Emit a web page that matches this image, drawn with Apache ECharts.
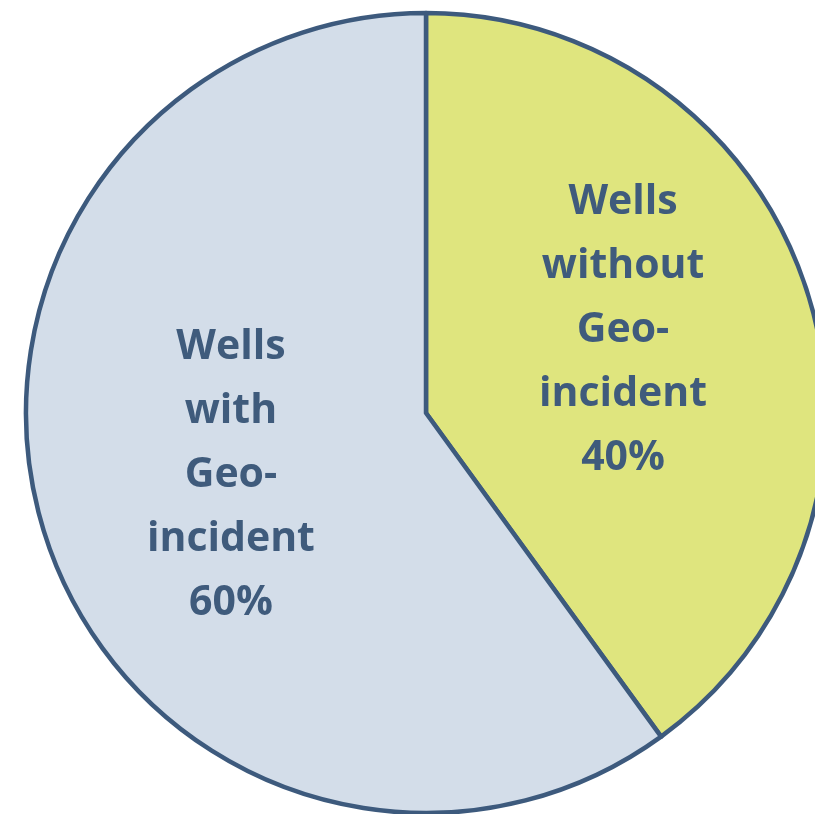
<!DOCTYPE html>
<html>
<head>
<meta charset="utf-8">
<script src="https://cdn.jsdelivr.net/npm/echarts@6/dist/echarts.min.js"></script>
<style>
  html, body { margin: 0; padding: 0; background: #ffffff; }
  #chart { width: 815px; height: 814px; }
</style>
</head>
<body>
<div id="chart"></div>
<script>
// Well categories and their shares (percent)
const categories = ['Wells\nwithout\nGeo-\nincident', 'Wells\nwith\nGeo-\nincident'];
const shares = [40, 60];
const sliceColors = ['#dfe57e', '#d3dde9'];

const chart = echarts.init(document.getElementById('chart'), null, { renderer: 'canvas' });

chart.setOption({
  backgroundColor: '#ffffff',
  animation: false,
  series: [{
    type: 'pie',
    center: [426, 413],
    radius: [0, 400],
    startAngle: 90,
    clockwise: true,
    avoidLabelOverlap: false,
    data: categories.map((name, i) => ({
      name: name,
      value: shares[i],
      itemStyle: { color: sliceColors[i] },
      label: { offset: i === 0 ? [4, -20] : [-2, 0] }
    })),
    itemStyle: {
      borderColor: '#3d5a7d',
      borderWidth: 4.5
    },
    label: {
      show: true,
      position: 'inside',
      formatter: p => p.name + '\n' + p.value + '%',
      color: '#3f5b7c',
      fontFamily: 'Open Sans',
      fontWeight: 'bold',
      fontSize: 41,
      lineHeight: 64,
      align: 'center'
    },
    labelLine: { show: false },
    emphasis: { disabled: true }
  }]
});
</script>
</body>
</html>
